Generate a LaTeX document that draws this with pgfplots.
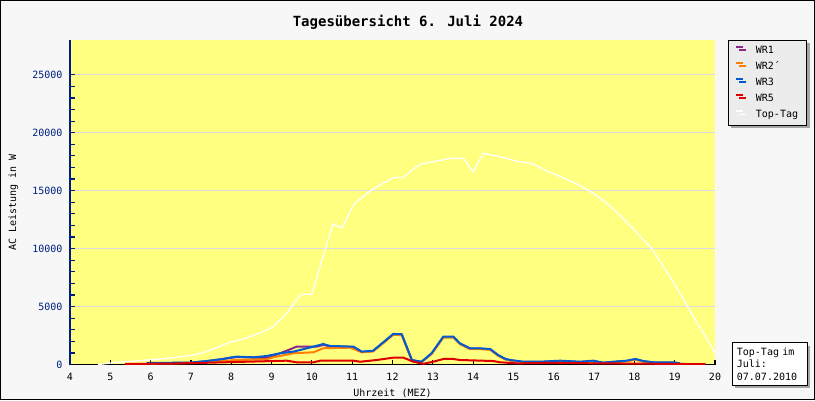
\documentclass[border=0pt]{standalone}
\usepackage{fontspec}
\setmainfont{DejaVu Sans Mono}
\usepackage{pgfplots}
\pgfplotsset{compat=1.18}
\usetikzlibrary{shadows}
\definecolor{bg}{RGB}{247,247,247}
\definecolor{plotyellow}{RGB}{255,255,128}
\definecolor{gridgray}{RGB}{220,220,226}
\definecolor{navy}{RGB}{0,30,130}
\definecolor{wrone}{RGB}{140,40,140}
\definecolor{wrtwo}{RGB}{255,128,0}
\definecolor{wrthree}{RGB}{0,90,210}
\definecolor{wrfive}{RGB}{220,0,0}
\definecolor{legbg}{RGB}{236,236,236}
\begin{document}
\begin{tikzpicture}
\useasboundingbox (0,0) rectangle (815pt,400pt);
\draw[line width=1pt, fill=bg] (0.5pt,0.5pt) rectangle (814.5pt,399.5pt);
\node[font=\bfseries\fontsize{14}{16}\selectfont] at (408pt,378pt) {Tagesübersicht 6. Juli 2024};
\begin{axis}[
  at={(70pt,35.5pt)}, anchor=south west,
  scale only axis, width=645pt, height=324.5pt,
  xmin=4, xmax=20, ymin=0, ymax=28000,
  axis lines=left,
  x axis line style={black, line width=1.5pt, -},
  y axis line style={navy, line width=2.5pt, -},
  tick align=inside,
  xtick={4,5,...,20},
  ytick={0,5000,10000,15000,20000,25000},
  minor y tick num=4,
  major tick length=5pt, minor tick length=5pt,
  x tick style={black, line width=1.2pt},
  y tick style={navy, line width=1.2pt},
  ymajorgrids,
  major grid style={gridgray, line width=1pt},
  /pgf/number format/assume math mode=true,
  /pgf/number format/1000 sep={},
  scaled y ticks=false,
  tick label style={font=\fontsize{10}{12}\selectfont},
  x tick label style={black, yshift=-5pt},
  y tick label style={navy, xshift=-4pt},
  xlabel={Uhrzeit (MEZ)},
  xlabel style={at={(axis description cs:0.5,-0.0878)}, anchor=center, font=\fontsize{10}{12}\selectfont},
  ylabel={AC Leistung in W},
  ylabel style={at={(axis description cs:-0.0879,0.5)}, anchor=center, font=\fontsize{10}{12}\selectfont},
  axis background/.style={fill=plotyellow},
  legend cell align=left,
  legend image code/.code={\draw[#1, line width=2pt] (0pt,3.3pt) -- (7pt,3.3pt);},
  legend style={at={(axis description cs:1.0202,1)}, anchor=north west,
    draw=black, line width=0.8pt, fill=legbg,
    drop shadow={shadow xshift=3pt, shadow yshift=-3pt, fill=black!35, opacity=1},
    font=\fontsize{10}{12}\selectfont,
    inner xsep=7pt, inner ysep=4pt, row sep=3.5pt,
    nodes={inner sep=1.5pt, text height=7.5pt, text depth=2pt},
    /tikz/every odd column/.append style={column sep=10pt}},
]
% WR1
\addplot[wrone, line width=2pt] coordinates {
(5.9,100) (7.0,150) (7.39,280) (7.97,560) (8.13,640) (8.55,600) (8.88,540)
(9.21,970) (9.46,1310) (9.62,1540) (10.12,1540) (10.28,1690) (10.45,1570)
(11.03,1510) (11.24,1080) (11.52,1160) (12.02,2610) (12.23,2580) (12.48,370)
(12.72,220) (12.97,940) (13.26,2370) (13.51,2370) (13.67,1800) (13.92,1370)
(14.13,1370) (14.42,1310) (14.62,790) (14.79,470) (14.92,360) (15.25,220)
(15.66,220) (16.16,300) (16.65,220) (16.98,300) (17.23,140) (17.48,220)
(17.81,300) (18.02,450) (18.22,280) (18.47,170) (18.97,170) (19.13,90)
};
% WR2'
\addplot[wrtwo, line width=2pt] coordinates {
(6.0,80) (7.0,120) (7.39,190) (8.13,390) (8.88,450) (9.04,620) (9.54,970)
(10.04,1055) (10.28,1400) (10.95,1450) (11.24,1050) (11.52,1130) (12.02,2560)
(12.23,2530) (12.48,350) (12.72,200) (12.97,900) (13.26,2320) (13.51,2320)
(13.67,1760) (13.92,1330) (14.13,1330) (14.42,1270) (14.62,760) (14.79,450)
(14.92,340) (15.25,200) (15.66,200) (16.16,280) (16.65,200) (16.98,280)
(17.23,120) (17.48,200) (17.81,280) (18.02,420) (18.22,250) (18.47,150)
(18.97,150) (19.13,80)
};
% WR3
\addplot[wrthree, line width=2pt] coordinates {
(5.9,150) (6.5,150) (7.0,170) (7.39,300) (7.75,450) (7.97,590) (8.13,680)
(8.55,620) (8.88,735) (9.21,970) (9.54,1110) (10.04,1540) (10.28,1770)
(10.45,1600) (11.03,1540) (11.24,1110) (11.52,1190) (12.02,2640) (12.23,2610)
(12.48,390) (12.72,240) (12.97,970) (13.26,2400) (13.51,2400) (13.67,1830)
(13.92,1400) (14.13,1400) (14.42,1340) (14.62,820) (14.79,500) (14.92,390)
(15.25,240) (15.66,240) (16.16,330) (16.65,240) (16.98,330) (17.23,160)
(17.48,240) (17.81,330) (18.02,475) (18.22,300) (18.47,190) (18.97,190)
(19.13,100)
};
% WR5
\addplot[wrfive, line width=2pt] coordinates {
(5.36,50) (6.5,80) (7.39,150) (8.38,240) (9.04,300) (9.38,330) (9.62,190)
(10.04,190) (10.21,330) (11.03,330) (11.20,240) (11.61,390) (12.02,590)
(12.27,590) (12.52,240) (12.76,60) (13.01,240) (13.26,475) (13.51,475)
(13.67,390) (14.50,300) (14.67,190) (15.08,100) (16.08,150) (17.0,100)
(18.0,80) (19.0,50) (19.77,30)
};
% Top-Tag
\addplot[white, line width=1.3pt] coordinates {
(4.7,0) (5.16,190) (5.74,330) (6.23,475) (6.6,600) (7.06,820) (7.39,1110)
(7.97,1920) (8.30,2200) (8.71,2700) (9.04,3270) (9.38,4430) (9.62,5580)
(9.75,6070) (10.0,6070) (10.52,12130) (10.75,11780) (11.01,13650)
(11.11,14060) (11.52,15150) (12.02,16130) (12.27,16130) (12.52,16890)
(12.72,17320) (13.0,17490) (13.47,17800) (13.76,17800) (14.0,16630)
(14.25,18230) (14.67,17920) (15.08,17540) (15.49,17320) (15.83,16680)
(16.24,16110) (16.66,15440) (16.82,15100) (17.15,14380) (17.48,13430)
(17.93,11870) (18.22,10770) (18.42,10050) (18.80,8030) (19.13,6160)
(19.46,4140) (19.79,2270) (20.0,970)
};
\legend{WR1, WR2´, WR3, WR5, Top-Tag}
\end{axis}
\node[draw=black, line width=0.8pt, fill=white, anchor=north west,
  drop shadow={shadow xshift=3pt, shadow yshift=-3pt, fill=black!35, opacity=1},
  font=\fontsize{10}{12.5}\selectfont, align=left, text width=66pt,
  inner xsep=4.5pt, inner ysep=5pt] at (732pt,57.7pt) {Top-Tag im\\Juli:\\07.07.2010};
\end{tikzpicture}
\end{document}
